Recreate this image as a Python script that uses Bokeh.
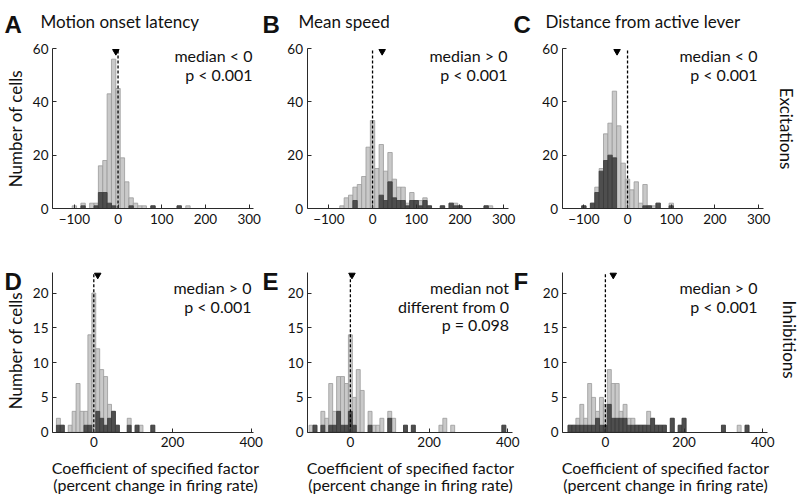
from math import pi
from bokeh.plotting import figure
from bokeh.models import Label, FixedTicker
from bokeh.layouts import row, column
from bokeh.embed import file_html
from bokeh.resources import INLINE

FONT = "Lato"

# ---------------- data (bin centres in %, counts) ----------------
# A: Excitations / Motion onset latency
bins_A = [-100, -80, -60, -50, -40, -30, -20, -10, 0, 10, 20, 30, 40, 50, 60, 80, 140, 160]
all_A = [1, 2, 2, 2, 16, 18, 43, 56, 45, 19, 10, 4, 2, 1, 1, 1, 1, 1]
sub_A = [0, 1, 0, 1, 6, 6, 2, 1, 0, 0, 0, 1, 0, 0, 0, 1, 1, 0]
# B: Excitations / Mean speed
bins_B = [-70, -60, -50, -40, -30, -20, -10, 0, 10, 20, 30, 40, 50, 60, 70, 80, 90, 100,
          110, 120, 130, 160, 180, 190, 200, 260, 270]
all_B = [1, 4, 5, 8, 9, 12, 23, 33, 15, 24, 14, 21, 11, 8, 8, 2, 6, 3, 3, 4, 1, 1, 2, 2, 1, 1, 1]
sub_B = [0, 0, 0, 3, 0, 0, 0, 0, 0, 5, 3, 10, 4, 3, 3, 1, 3, 3, 1, 3, 1, 1, 2, 1, 1, 1, 0]
# C: Excitations / Distance from active lever
bins_C = [-100, -80, -70, -60, -50, -40, -30, -20, -10, 0, 10, 20, 30, 40, 50, 60, 70, 100]
all_C = [1, 2, 8, 15, 28, 32, 44, 31, 17, 11, 7, 10, 2, 9, 1, 1, 2, 2]
sub_C = [1, 2, 6, 14, 18, 20, 19, 0, 0, 0, 0, 0, 0, 1, 1, 0, 2, 1]
# D: Inhibitions / Motion onset latency
bins_D = [-90, -80, -60, -50, -40, -30, -20, -10, 0, 10, 20, 30, 40, 50, 60, 90, 110, 120, 150]
all_D = [2, 1, 1, 3, 7, 3, 3, 14, 20, 12, 9, 8, 4, 3, 1, 2, 1, 1, 1]
sub_D = [1, 1, 0, 0, 0, 0, 1, 1, 0, 3, 2, 1, 2, 3, 1, 1, 1, 0, 1]
# E: Inhibitions / Mean speed
bins_E = [-100, -90, -70, -60, -50, -40, -30, -20, -10, 0, 10, 20, 30, 50, 60, 70, 80,
          100, 110, 140, 160, 230, 240, 260, 390]
all_E = [1, 1, 3, 2, 7, 3, 8, 8, 7, 14, 5, 9, 6, 3, 1, 1, 2, 3, 2, 1, 1, 1, 2, 1, 1]
sub_E = [0, 1, 1, 0, 1, 1, 3, 1, 1, 3, 1, 0, 0, 1, 0, 0, 0, 2, 0, 1, 1, 0, 0, 0, 1]
# F: Inhibitions / Distance from active lever
bins_F = [-90, -80, -70, -60, -50, -40, -30, -20, -10, 0, 10, 20, 30, 40, 50, 60, 70, 80,
          90, 100, 110, 120, 130, 140, 150, 170, 190, 200, 300, 340, 360]
all_F = [1, 1, 2, 4, 2, 7, 5, 3, 5, 4, 9, 7, 7, 3, 4, 2, 2, 1, 1, 1, 3, 2, 1, 1, 1, 2, 1, 2, 1, 1, 1]
sub_F = [1, 1, 1, 1, 1, 1, 1, 2, 1, 1, 4, 2, 2, 2, 2, 1, 1, 1, 1, 1, 1, 2, 1, 1, 1, 2, 1, 2, 1, 0, 1]

medians = [-5, 22, -24, 10, 4, 20]
zero_ref = 0
titles = ["Motion onset latency", "Mean speed", "Distance from active lever"]
row_labels = ["Excitations", "Inhibitions"]
letters = ["A", "B", "C", "D", "E", "F"]
stats = [["median < 0", "p < 0.001"], ["median > 0", "p < 0.001"], ["median < 0", "p < 0.001"],
         ["median > 0", "p < 0.001"], ["median not", "different from 0", "p = 0.098"],
         ["median > 0", "p < 0.001"]]
top_xticks = [-100, 0, 100, 200, 300]
bot_xticks = [0, 200, 400]
top_yticks = [0, 20, 40, 60]
bot_yticks = [0, 5, 10, 15, 20]
top_xlim, top_ylim = (-150, 310), (0, 60)
bot_ylim = (0, 23)
xlims_bot = [(-105, 406), (-109, 412), (-109, 412)]
ylabel = "Number of cells"
xlabel = ["Coefficient of specified factor", "(percent change in firing rate)"]

LIGHT_FILL, LIGHT_LINE = "#c9c9c9", "#9a9a9a"
DARK_FILL, DARK_LINE = "#4e4e4e", "#3a3a3a"
AX = "#2a2a2a"
TXT = "#111111"


class Panel:
    def __init__(self, box, frame, xlim, ylim):
        X0, Y0, W, H = box
        fx0, fx1, fyt, fyb = frame
        ux = (xlim[1] - xlim[0]) / (fx1 - fx0)
        uy = (ylim[1] - ylim[0]) / (fyb - fyt)
        xr = (xlim[0] - (fx0 - X0) * ux, xlim[1] + (X0 + W - fx1) * ux)
        yr = (ylim[0] - (Y0 + H - fyb) * uy, ylim[1] + (fyt - Y0) * uy)
        self.X0, self.Y0, self.H = X0, Y0, H
        self.xlim, self.ylim = xlim, ylim
        self.p = figure(width=W, height=H, x_range=xr, y_range=yr, output_backend="svg",
                        toolbar_location=None, min_border=0, title=None)
        p = self.p
        p.xgrid.visible = False
        p.ygrid.visible = False
        p.outline_line_color = None

    def hist(self, bins, allc, subc, med, xt, yt):
        p = self.p
        p.vbar(x=bins, width=10, top=allc, bottom=0, fill_color=LIGHT_FILL,
               line_color=LIGHT_LINE, line_width=0.8)
        sb = [b for b, s in zip(bins, subc) if s > 0]
        sv = [s for s in subc if s > 0]
        p.vbar(x=sb, width=10, top=sv, bottom=0, fill_color=DARK_FILL,
               line_color=DARK_LINE, line_width=0.8)
        p.segment(x0=[zero_ref], y0=[self.ylim[0]], x1=[zero_ref], y1=[self.ylim[1]],
                  line_dash="3 2", line_color="black", line_width=1.3)
        p.scatter(x=[med], y=[self.ylim[1] * 0.982], marker="inverted_triangle", size=6.5,
                  color="black")
        p.xaxis.fixed_location = self.ylim[0]
        p.xaxis.bounds = self.xlim
        p.yaxis.fixed_location = self.xlim[0]
        p.yaxis.bounds = self.ylim
        p.xaxis.ticker = FixedTicker(ticks=xt)
        p.yaxis.ticker = FixedTicker(ticks=yt)
        p.xaxis.major_label_overrides = {t: ("\u2212" + str(-t) if t < 0 else str(t)) for t in xt}
        for ax in (p.xaxis[0], p.yaxis[0]):
            ax.axis_line_color = AX
            ax.axis_line_width = 1
            ax.major_tick_line_color = AX
            ax.major_tick_in = 4
            ax.major_tick_out = 0
            ax.minor_tick_line_color = None
            ax.major_label_text_font = FONT
            ax.major_label_text_font_size = "13.5px"
            ax.major_label_text_color = TXT
        p.xaxis.major_label_standoff = 5
        p.yaxis.major_label_standoff = 4

    def text(self, px, py, text, size="16px", align="left", baseline="alphabetic", angle=0.0,
             bold=False, font=FONT):
        self.p.add_layout(Label(x=px - self.X0, y=self.Y0 + self.H - py, x_units="screen",
                                y_units="screen", text=text, text_font=font,
                                text_font_size=size, text_align=align, text_baseline=baseline,
                                angle=angle, text_color=TXT,
                                text_font_style="bold" if bold else "normal"))


A = Panel((0, 0, 280, 258), (52, 253, 48, 208), top_xlim, top_ylim)
B = Panel((280, 0, 258, 258), (306.5, 507.5, 48, 208), top_xlim, top_ylim)
C = Panel((538, 0, 262, 258), (561.5, 762.5, 48, 208), top_xlim, top_ylim)
D = Panel((0, 258, 280, 237), (52, 253, 271.7, 431.7), xlims_bot[0], bot_ylim)
E = Panel((280, 258, 258, 237), (307, 512, 271.7, 431.7), xlims_bot[1], bot_ylim)
F = Panel((538, 258, 262, 237), (562, 767, 271.7, 431.7), xlims_bot[2], bot_ylim)

A.hist(bins_A, all_A, sub_A, medians[0], top_xticks, top_yticks)
B.hist(bins_B, all_B, sub_B, medians[1], top_xticks, top_yticks)
C.hist(bins_C, all_C, sub_C, medians[2], top_xticks, top_yticks)
D.hist(bins_D, all_D, sub_D, medians[3], bot_xticks, bot_yticks)
E.hist(bins_E, all_E, sub_E, medians[4], bot_xticks, bot_yticks)
F.hist(bins_F, all_F, sub_F, medians[5], bot_xticks, bot_yticks)

LET = dict(size="24px", bold=True, font="Liberation Sans")
# panel letters
A.text(4, 24, letters[0], **LET)
A.text(262, 24, letters[1], **LET)
B.text(513, 24, letters[2], **LET)
D.text(4, 281, letters[3], **LET)
D.text(262, 281, letters[4], **LET)
E.text(513, 281, letters[5], **LET)
# column titles
A.text(40, 21, titles[0], size="17px")
B.text(298, 21, titles[1], size="17px")
C.text(545, 21, titles[2], size="17px")
# y labels and row labels
A.text(15, 128, ylabel, size="17px", align="center", baseline="middle", angle=pi / 2)
D.text(15, 350, ylabel, size="17px", align="center", baseline="middle", angle=pi / 2)
C.text(786, 128, row_labels[0], size="17px", align="center", baseline="middle", angle=-pi / 2)
F.text(789, 339, row_labels[1], size="17px", align="center", baseline="middle", angle=-pi / 2)
# statistics
for P, xr, st in ((A, 252, stats[0]), (B, 507, stats[1]), (C, 757, stats[2])):
    for i, t in enumerate(st):
        P.text(xr, 55 + 18.5 * i, t, align="right")
for P, xr, st in ((D, 251, stats[3]), (E, 508.5, stats[4]), (F, 757, stats[5])):
    for i, t in enumerate(st):
        P.text(xr, 286.7 + 18.8 * i, t, align="right")
# x labels
for P, xc in ((D, 155), (E, 410), (F, 665)):
    P.text(xc, 467, xlabel[0], size="16px", align="center")
    P.text(xc, 484, xlabel[1], size="16px", align="center")

layout = column(row(A.p, B.p, C.p), row(D.p, E.p, F.p))
open("out.html", "w").write(file_html(layout, INLINE))
